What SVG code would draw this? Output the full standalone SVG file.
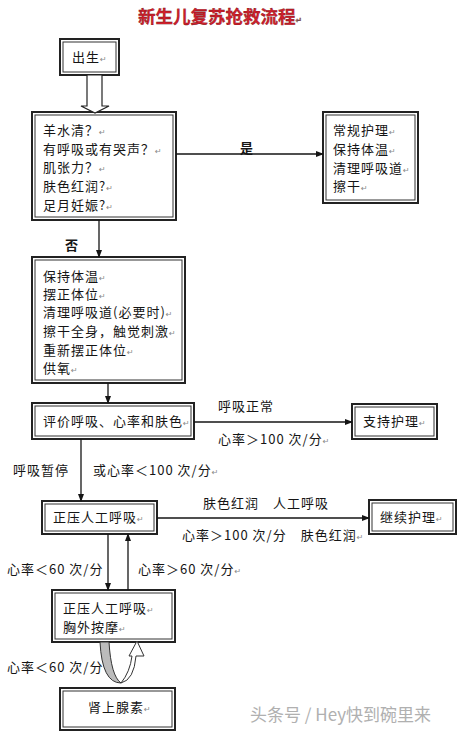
<svg xmlns="http://www.w3.org/2000/svg" width="468" height="733" viewBox="0 0 468 733">
<style>
.bo{fill:#fff;stroke:#222;stroke-width:2}
.bi{fill:none;stroke:#333;stroke-width:1}
.t{font-family:"Noto Sans CJK SC","Liberation Sans",sans-serif;font-size:13px;letter-spacing:1px;fill:#151515}
.p{font-family:"DejaVu Sans",sans-serif;font-size:8px;letter-spacing:0;fill:#888}
.b{font-weight:bold}
.c{stroke:#151515;stroke-width:1.3;fill:none}
</style>
<defs>
<marker id="ah" markerWidth="8" markerHeight="8" refX="7" refY="4" orient="auto" markerUnits="userSpaceOnUse">
<path d="M0,1 L8,4 L0,7 Z" fill="#151515"/>
</marker>
</defs>
<rect width="468" height="733" fill="#fff"/>
<text x="138" y="23" font-family="'Noto Sans CJK SC',sans-serif" font-size="17.5" font-weight="bold" fill="#d0202c" stroke="#701010" stroke-width="0.3">新生儿复苏抢救流程<tspan class="p">↵</tspan></text>

<g id="n-birth">
<rect class="bo" x="60" y="39" width="59" height="36"/>
<rect class="bi" x="63" y="42" width="53" height="30"/>
<text class="t" x="72" y="62">出生<tspan class="p">↵</tspan></text>
</g>

<g id="n-assess1">
<rect class="bo" x="32" y="112" width="144" height="108"/>
<rect class="bi" x="35" y="115" width="138" height="102"/>
<text class="t" x="43" y="135">羊水清？<tspan class="p">↵</tspan></text>
<text class="t" x="43" y="154">有呼吸或有哭声？<tspan class="p">↵</tspan></text>
<text class="t" x="43" y="172">肌张力？<tspan class="p">↵</tspan></text>
<text class="t" x="43" y="191">肤色红润?<tspan class="p">↵</tspan></text>
<text class="t" x="43" y="210">足月妊娠?<tspan class="p">↵</tspan></text>
</g>

<g id="n-routine">
<rect class="bo" x="323" y="112" width="95" height="91"/>
<rect class="bi" x="326" y="115" width="89" height="85"/>
<text class="t" x="333" y="135">常规护理<tspan class="p">↵</tspan></text>
<text class="t" x="333" y="154">保持体温<tspan class="p">↵</tspan></text>
<text class="t" x="333" y="173">清理呼吸道<tspan class="p">↵</tspan></text>
<text class="t" x="333" y="191">擦干<tspan class="p">↵</tspan></text>
</g>

<g id="n-initial">
<rect class="bo" x="32" y="257" width="153" height="126"/>
<rect class="bi" x="35" y="260" width="147" height="120"/>
<text class="t" x="43" y="281">保持体温<tspan class="p">↵</tspan></text>
<text class="t" x="43" y="299">摆正体位<tspan class="p">↵</tspan></text>
<text class="t" x="43" y="317">清理呼吸道(必要时)<tspan class="p">↵</tspan></text>
<text class="t" x="43" y="336">擦干全身，触觉刺激<tspan class="p">↵</tspan></text>
<text class="t" x="43" y="355">重新摆正体位<tspan class="p">↵</tspan></text>
<text class="t" x="43" y="373">供氧<tspan class="p">↵</tspan></text>
</g>

<g id="n-eval">
<rect class="bo" x="32" y="403" width="162" height="36"/>
<rect class="bi" x="35" y="406" width="156" height="30"/>
<text class="t" x="43" y="426">评价呼吸、心率和肤色<tspan class="p">↵</tspan></text>
</g>

<g id="n-support">
<rect class="bo" x="352" y="404" width="85" height="35"/>
<rect class="bi" x="355" y="407" width="79" height="29"/>
<text class="t" x="363" y="426">支持护理<tspan class="p">↵</tspan></text>
</g>

<g id="n-ppv">
<rect class="bo" x="42" y="501" width="115" height="33"/>
<rect class="bi" x="45" y="504" width="109" height="27"/>
<text class="t" x="53" y="522">正压人工呼吸<tspan class="p">↵</tspan></text>
</g>

<g id="n-continue">
<rect class="bo" x="369" y="500" width="87" height="34"/>
<rect class="bi" x="372" y="503" width="81" height="28"/>
<text class="t" x="380" y="522">继续护理<tspan class="p">↵</tspan></text>
</g>

<g id="n-cpr">
<rect class="bo" x="52" y="590" width="123" height="52"/>
<rect class="bi" x="55" y="593" width="117" height="46"/>
<text class="t" x="63" y="613">正压人工呼吸<tspan class="p">↵</tspan></text>
<text class="t" x="63" y="632">胸外按摩<tspan class="p">↵</tspan></text>
</g>

<g id="n-epi">
<rect class="bo" x="60" y="688" width="115" height="42"/>
<rect class="bi" x="63" y="691" width="109" height="36"/>
<text class="t" x="88" y="712">肾上腺素<tspan class="p">↵</tspan></text>
</g>

<g id="connectors">
<path d="M87,75 L102,75 L102,106 L109,106 L95,113 L81,106 L87,106 Z" fill="#fff" stroke="#222" stroke-width="1.2"/>
<line class="c" x1="176" y1="154" x2="323" y2="154" marker-end="url(#ah)"/>
<line class="c" x1="99" y1="220" x2="99" y2="257" marker-end="url(#ah)"/>
<line class="c" x1="108" y1="383" x2="108" y2="403" marker-end="url(#ah)"/>
<line class="c" x1="194" y1="422" x2="352" y2="422" marker-end="url(#ah)"/>
<line class="c" x1="81" y1="439" x2="81" y2="501" marker-end="url(#ah)"/>
<line class="c" x1="157" y1="518" x2="369" y2="518" marker-end="url(#ah)"/>
<line class="c" x1="108" y1="534" x2="108" y2="590" marker-end="url(#ah)"/>
<line class="c" x1="128" y1="590" x2="128" y2="534" marker-end="url(#ah)"/>
<path d="M100,642 Q102,683 121,683 Q111,676 109,642 Z" fill="#bbb" stroke="#333" stroke-width="1"/>
<path d="M121,683 Q134,680 136,656 L144,656 L137,641 L129,656 L132,656 Q130,672 121,683 Z" fill="#fff" stroke="#333" stroke-width="1"/>
</g>

<g id="labels">
<text class="t b" x="240" y="153">是</text>
<text class="t b" x="65" y="250">否</text>
<text class="t" x="218" y="411">呼吸正常</text>
<text class="t" x="218" y="444">心率＞100 次/分<tspan class="p">↵</tspan></text>
<text class="t" x="13" y="475">呼吸暂停</text>
<text class="t" x="93" y="475">或心率＜100 次/分<tspan class="p">↵</tspan></text>
<text class="t" x="203" y="508">肤色红润　人工呼吸</text>
<text class="t" x="182" y="540">心率＞100 次/分　肤色红润<tspan class="p">↵</tspan></text>
<text class="t" x="7" y="574">心率＜60 次/分</text>
<text class="t" x="138" y="574">心率＞60 次/分<tspan class="p">↵</tspan></text>
<text class="t" x="7" y="672">心率＜60 次/分</text>
</g>
<text x="250" y="721" font-family="'Noto Sans CJK SC',sans-serif" font-size="17" fill="#b0b0b0">头条号 / Hey快到碗里来</text>
</svg>
